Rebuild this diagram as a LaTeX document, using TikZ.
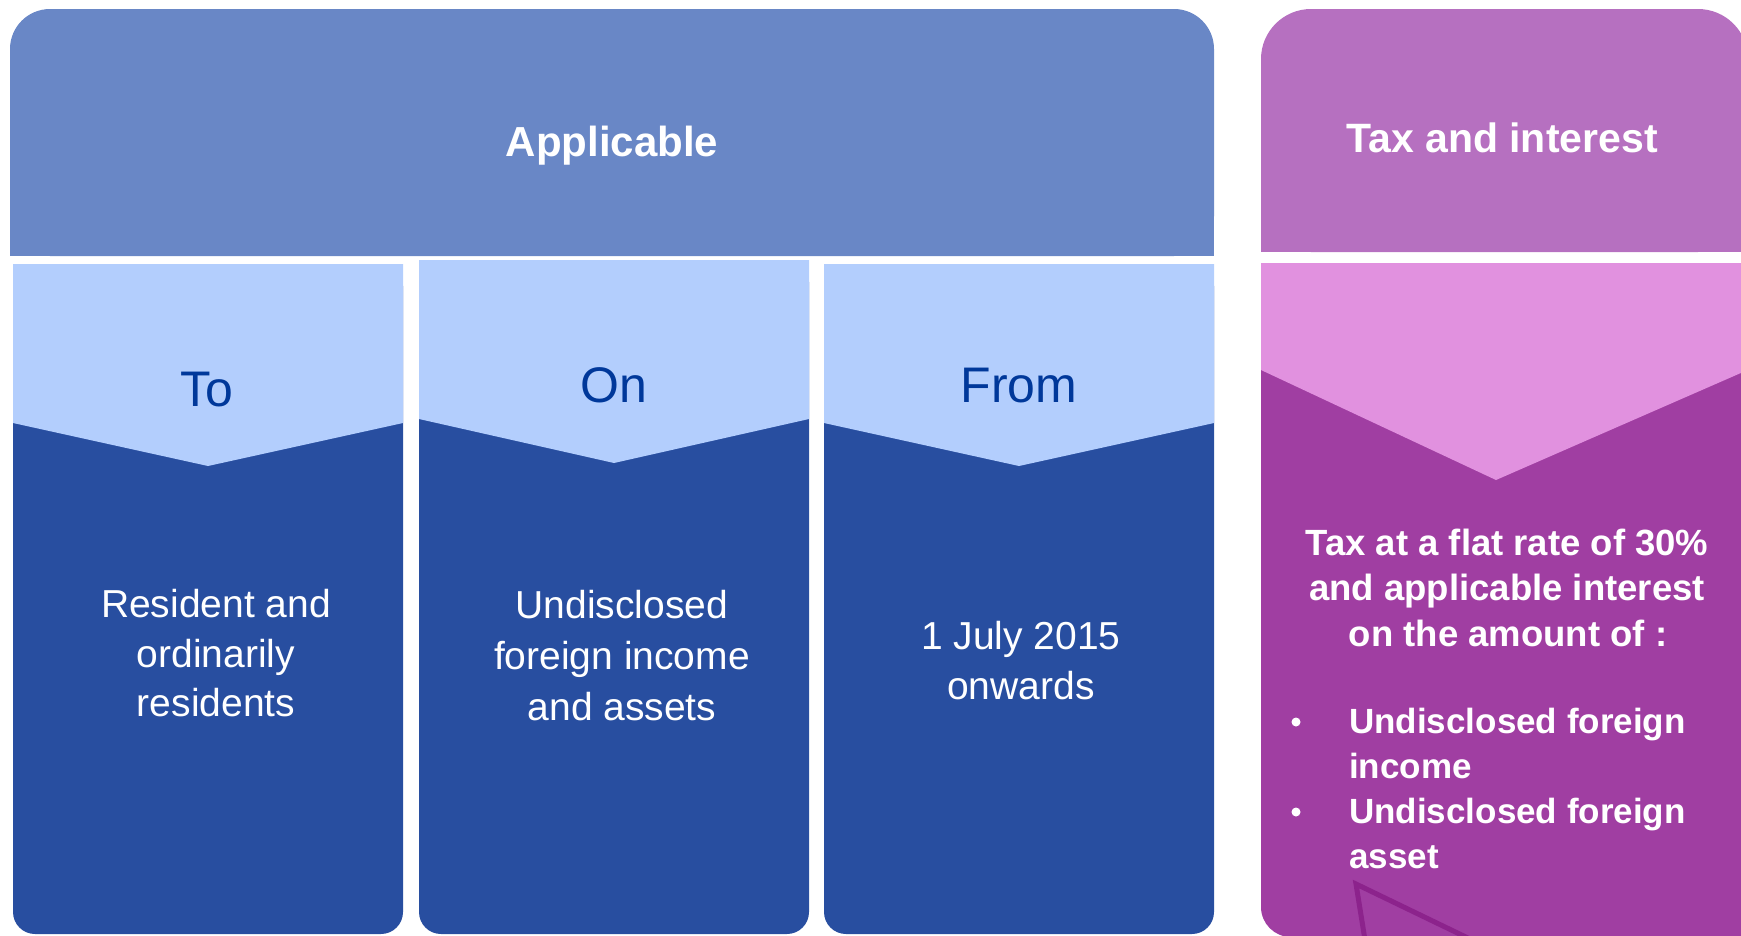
\documentclass[tikz,border=0pt]{standalone}
\usepackage{fontspec}
\setmainfont{Liberation Sans}
\definecolor{topblue}{RGB}{105,135,198}
\definecolor{colblue}{RGB}{40,78,160}
\definecolor{lightblue}{RGB}{179,206,253}
\definecolor{hdrtext}{RGB}{0,56,154}
\definecolor{toppurple}{RGB}{182,112,192}
\definecolor{pink}{RGB}{225,145,223}
\definecolor{lowpurple}{RGB}{160,62,162}
\definecolor{linepurple}{RGB}{140,35,140}
\tikzset{
  hdr/.style={text=hdrtext, font=\fontsize{50}{60}\selectfont, anchor=base, inner sep=0},
  coltext/.style={text=white, font=\fontsize{39}{46}\selectfont, anchor=base, inner sep=0},
  titletext/.style={text=white, font=\bfseries\fontsize{42}{50}\selectfont, anchor=base, inner sep=0},
  ptext/.style={text=white, font=\bfseries\fontsize{36.5}{44}\selectfont, anchor=base, inner sep=0},
  btext/.style={text=white, font=\bfseries\fontsize{35}{42}\selectfont, anchor=base west, inner sep=0},
}
\begin{document}
\begin{tikzpicture}[x=1pt,y=-1pt]
\useasboundingbox (0,0) rectangle (1741,935);
\clip (0,0) rectangle (1741,935);
% top blue header
\fill[topblue, rounded corners=40] (10,9) rectangle (1214,256);
\fill[topblue] (10,120) rectangle (1214,256);
\node[titletext] (applicable) at (612,156) {Applicable};
% columns
\fill[colblue, rounded corners=22] (13,264) rectangle (403,934);
\fill[lightblue] (13,264) -- (403,264) -- (403,423) -- (208,466) -- (13,423) -- cycle;
\fill[colblue, rounded corners=22] (419,260) rectangle (809,934);
\fill[lightblue] (419,260) -- (809,260) -- (809,419) -- (614,463) -- (419,419) -- cycle;
\fill[colblue, rounded corners=22] (824,264) rectangle (1214,934);
\fill[lightblue] (824,264) -- (1214,264) -- (1214,423) -- (1019,466) -- (824,423) -- cycle;
\node[hdr] (to) at (207,406) {To};
\node[hdr] (on) at (614,402) {On};
\node[hdr] (from) at (1019,402) {From};
\node[coltext] (c1a) at (216,617) {Resident and};
\node[coltext] (c1b) at (216,667) {ordinarily};
\node[coltext] (c1c) at (216,716) {residents};
\node[coltext] (c2a) at (622,618) {Undisclosed};
\node[coltext] (c2b) at (622,669) {foreign income};
\node[coltext] (c2c) at (622,720) {and assets};
\node[coltext] (c3a) at (1021,649) {1 July 2015};
\node[coltext] (c3b) at (1021,699) {onwards};
% purple header
\fill[toppurple, rounded corners=50] (1261,9) rectangle (1748,252);
\fill[toppurple] (1261,120) rectangle (1748,252);
\node[titletext, font=\bfseries\fontsize{41}{50}\selectfont] (tax) at (1502,152) {Tax and interest};
% purple body
\fill[lowpurple, rounded corners=30] (1261,263) rectangle (1770,937);
\fill[pink] (1261,263) -- (1750,263) -- (1750,369) -- (1496,480) -- (1261,370) -- cycle;
\node[ptext] (p1) at (1507,555) {Tax at a flat rate of 30\%};
\node[ptext] (p2) at (1507,600) {and applicable interest};
\node[ptext] (p3) at (1508,646) {on the amount of :};
\node[btext] (b1) at (1349,733) {Undisclosed foreign};
\node[btext] (b1b) at (1349,778) {income};
\node[btext] (b2) at (1349,823) {Undisclosed foreign};
\node[btext] (b2b) at (1349,868) {asset};
\fill[white] (1296,722) circle (4.5);
\fill[white] (1296,812) circle (4.5);
\draw[linepurple, line width=5, line join=miter] (1365,940) -- (1356,884) -- (1472,940);
\end{tikzpicture}
\end{document}
